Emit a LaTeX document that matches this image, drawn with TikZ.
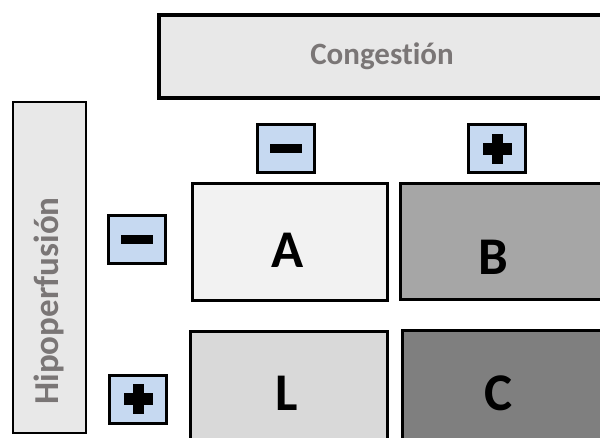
\documentclass[tikz,border=0pt]{standalone}
\usepackage{fontspec}
\setmainfont[Ligatures={NoCommon}]{Carlito}
\definecolor{headfill}{HTML}{E8E8E8}
\definecolor{headtext}{HTML}{7A7676}
\definecolor{signfill}{HTML}{C6D9F1}
\definecolor{cellA}{HTML}{F2F2F2}
\definecolor{cellB}{HTML}{A6A6A6}
\definecolor{cellL}{HTML}{D9D9D9}
\definecolor{cellC}{HTML}{7F7F7F}
\tikzset{
  header/.style={draw=black, fill=headfill, inner sep=0pt},
  headlabel/.style={text=headtext, font=\fontsize{31}{31}\selectfont\bfseries, inner sep=0pt},
  signbox/.style={draw=black, line width=3pt, fill=signfill, minimum width=57pt, minimum height=48pt, inner sep=0pt},
  cell/.style={draw=black, line width=3pt, inner sep=0pt},
  letter/.style={font=\fontsize{53}{53}\selectfont\bfseries, inner sep=0pt},
}
\begin{document}
\begin{tikzpicture}[x=1pt, y=-1pt]
\useasboundingbox (0,0) rectangle (600,437);
\clip (0,0) rectangle (600,437);

% axis headers
\node[header, line width=3.5pt, minimum width=460pt, minimum height=83pt] (cong) at (389,56.5) {};
\node[headlabel] (congtext) at (382,56) {Congestión};
\node[header, line width=2pt, minimum width=73pt, minimum height=331pt] (hipo) at (49.5,267.5) {};
\node[headlabel, font=\fontsize{35}{35}\selectfont\bfseries, rotate=90] (hipotext) at (49,301) {Hipoperfusión};

% sign markers
\node[signbox] (cmin) at (285.5,148.5) {};
\node[signbox] (cplus) at (497,148.5) {};
\node[signbox] (hmin) at (137,239.5) {};
\node[signbox] (hplus) at (138,399) {};
\foreach \s in {cmin,hmin}{
  \fill ([shift={(-16,-4.5)}]\s.center) rectangle ([shift={(16,4.5)}]\s.center);
}
\foreach \s in {cplus,hplus}{
  \fill ([shift={(-14.5,-6)}]\s.center) rectangle ([shift={(14.5,6)}]\s.center);
  \fill ([shift={(-5.5,-15)}]\s.center) rectangle ([shift={(5.5,15)}]\s.center);
}

% quadrant cells
\node[cell, fill=cellA, minimum width=195pt, minimum height=117pt] (A) at (289.5,241.5) {};
\node[cell, fill=cellB, minimum width=205pt, minimum height=116pt] (B) at (502.5,241) {};
\node[cell, fill=cellL, minimum width=197pt, minimum height=124pt] (L) at (288.5,393) {};
\node[cell, fill=cellC, minimum width=205pt, minimum height=126pt] (C) at (504.5,393) {};
\node[letter] (Atext) at (288,250) {A};
\node[letter] (Btext) at (493,257.5) {B};
\node[letter] (Ltext) at (287,393) {L};
\node[letter] (Ctext) at (499,393.5) {C};
\end{tikzpicture}
\end{document}
